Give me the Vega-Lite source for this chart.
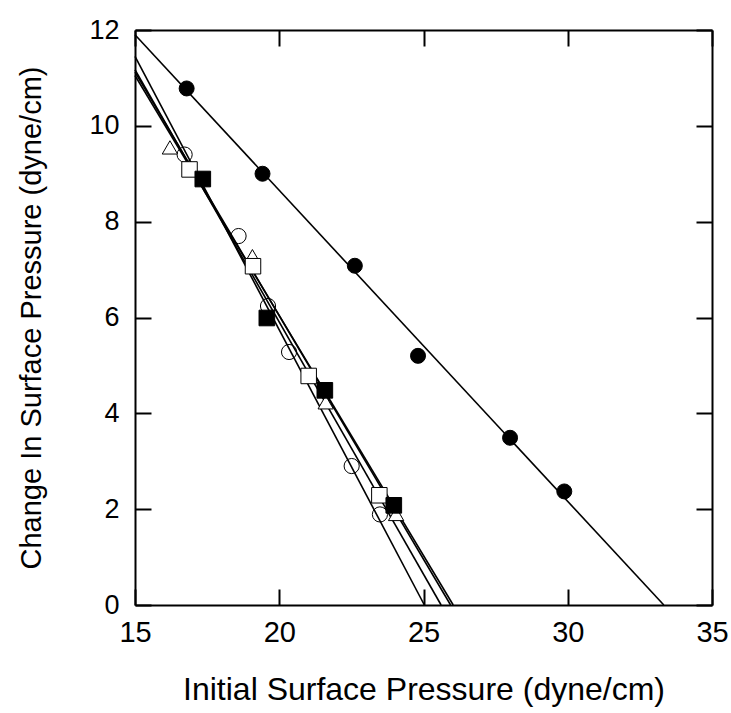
{
  "$schema": "https://vega.github.io/schema/vega-lite/v6.json",
  "autosize": {"type": "none"},
  "padding": {"left": 135, "top": 30, "right": 19, "bottom": 108},
  "width": 577,
  "height": 575,
  "background": "white",
  "config": {
    "view": {"stroke": null},
    "axis": {
      "domainColor": "black", "domainWidth": 2, "tickColor": "black", "tickWidth": 2,
      "tickSize": -16, "grid": false, "labelColor": "black", "titleColor": "black",
      "labelFlush": false, "labelOverlap": false,
      "labelFont": "Liberation Sans", "titleFont": "Liberation Sans", "titleFontWeight": "normal"
    }
  },
  "datasets": {
    "lines": [
      {"line": "L1", "x": 15, "y": 11.9}, {"line": "L1", "x": 33.33, "y": 0},
      {"line": "L2", "x": 15, "y": 11.45}, {"line": "L2", "x": 25.03, "y": 0},
      {"line": "L3", "x": 15, "y": 11.17}, {"line": "L3", "x": 25.61, "y": 0},
      {"line": "L4", "x": 15, "y": 11.12}, {"line": "L4", "x": 25.94, "y": 0},
      {"line": "L5", "x": 15, "y": 11.05}, {"line": "L5", "x": 26.03, "y": 0}
    ],
    "points": [
      {"series": "B", "x": 16.72, "y": 9.40},
      {"series": "B", "x": 18.59, "y": 7.70},
      {"series": "B", "x": 19.61, "y": 6.24},
      {"series": "B", "x": 20.34, "y": 5.28},
      {"series": "B", "x": 22.51, "y": 2.90},
      {"series": "B", "x": 23.49, "y": 1.89},
      {"series": "C", "x": 16.21, "y": 9.55},
      {"series": "C", "x": 19.07, "y": 7.28},
      {"series": "C", "x": 21.61, "y": 4.23},
      {"series": "C", "x": 24.05, "y": 1.90},
      {"series": "D", "x": 16.89, "y": 9.09},
      {"series": "D", "x": 19.09, "y": 7.07},
      {"series": "D", "x": 21.02, "y": 4.78},
      {"series": "D", "x": 23.47, "y": 2.29},
      {"series": "E", "x": 17.35, "y": 8.89},
      {"series": "E", "x": 19.57, "y": 5.99},
      {"series": "E", "x": 21.58, "y": 4.48},
      {"series": "E", "x": 23.97, "y": 2.08},
      {"series": "A", "x": 16.79, "y": 10.78},
      {"series": "A", "x": 19.42, "y": 9.00},
      {"series": "A", "x": 22.62, "y": 7.08},
      {"series": "A", "x": 24.81, "y": 5.20},
      {"series": "A", "x": 28.00, "y": 3.49},
      {"series": "A", "x": 29.88, "y": 2.37}
    ]
  },
  "layer": [
    {
      "data": {"name": "lines"},
      "mark": {"type": "line", "color": "black", "strokeWidth": 1.6},
      "encoding": {
        "x": {"field": "x", "type": "quantitative",
          "scale": {"domain": [15, 35], "nice": false, "zero": false},
          "axis": {"values": [15, 20, 25, 30, 35], "title": "Initial Surface Pressure (dyne/cm)",
            "labelFontSize": 29, "labelPadding": 29, "titleFontSize": 32, "titlePadding": 27}},
        "y": {"field": "y", "type": "quantitative",
          "scale": {"domain": [0, 12], "nice": false},
          "axis": {"values": [0, 2, 4, 6, 8, 10, 12], "title": "Change In Surface Pressure (dyne/cm)",
            "labelFontSize": 27, "labelPadding": 32, "titleFontSize": 29, "titlePadding": 42}},
        "detail": {"field": "line"}
      }
    },
    {
      "data": {"name": "lines"},
      "mark": {"type": "line", "opacity": 0},
      "encoding": {
        "x": {"field": "x", "type": "quantitative", "axis": {"orient": "top", "values": [15, 20, 25, 30, 35], "labels": false, "title": null}},
        "y": {"field": "y", "type": "quantitative", "axis": {"orient": "right", "values": [0, 2, 4, 6, 8, 10, 12], "labels": false, "title": null}},
        "detail": {"field": "line"}
      }
    },
    {
      "data": {"name": "points"},
      "mark": {"type": "point", "filled": true, "stroke": "black", "strokeWidth": 1, "opacity": 1},
      "encoding": {
        "x": {"field": "x", "type": "quantitative", "axis": null},
        "y": {"field": "y", "type": "quantitative", "axis": null},
        "shape": {"field": "series", "type": "nominal",
          "scale": {"domain": ["A", "B", "C", "D", "E"], "range": ["circle", "circle", "triangle-up", "square", "square"]}, "legend": null},
        "fill": {"field": "series", "type": "nominal",
          "scale": {"domain": ["A", "B", "C", "D", "E"], "range": ["black", "transparent", "white", "white", "black"]}, "legend": null},
        "size": {"field": "series", "type": "nominal",
          "scale": {"domain": ["A", "B", "C", "D", "E"], "range": [225, 245, 280, 245, 270]}, "legend": null}
      }
    }
  ],
  "resolve": {"axis": {"x": "independent", "y": "independent"}}
}
